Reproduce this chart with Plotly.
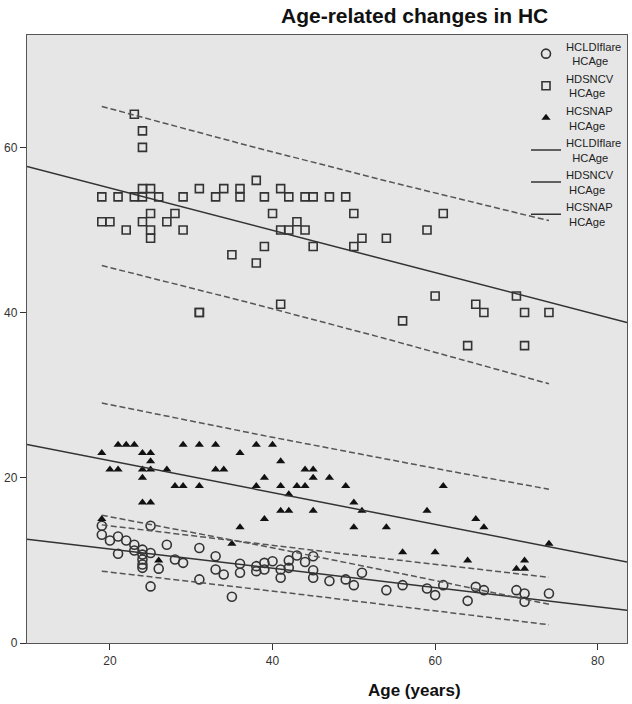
import numpy as np
import plotly.graph_objects as go

# ---------------- data ----------------
ldi_age = [19, 19, 20, 21, 21, 22, 23, 23, 24, 24, 24, 24, 24, 25, 25, 25, 26, 27, 28, 29,
           31, 31, 33, 33, 34, 35, 36, 36, 38, 38, 39, 39, 40, 41, 41, 42, 42, 43, 44, 45,
           45, 45, 47, 49, 50, 51, 54, 56, 59, 60, 61, 64, 65, 66, 70, 71, 71, 74]
ldi_val = [14.2, 13.1, 12.4, 12.9, 10.8, 12.4, 11.9, 11.2, 11.3, 10.7, 10.1, 9.5, 9.1, 14.2, 10.9, 6.85, 9.0, 11.9, 10.1, 9.7,
           11.5, 7.7, 10.5, 8.9, 8.3, 5.6, 9.6, 8.5, 9.3, 8.7, 9.7, 8.9, 9.9, 8.9, 7.9, 10.0, 9.1, 10.6, 9.8, 10.5,
           8.8, 7.9, 7.5, 7.7, 7.0, 8.5, 6.4, 7.0, 6.6, 5.8, 7.0, 5.1, 6.8, 6.4, 6.4, 6.0, 5.0, 6.0]

ncv_age = [19, 19, 20, 21, 22, 23, 23, 24, 24, 24, 24, 24, 25, 25, 25, 25, 26, 27, 28, 29,
           29, 31, 31, 31, 33, 34, 35, 36, 36, 38, 38, 39, 39, 40, 41, 41, 41, 42, 42, 43,
           44, 44, 45, 45, 47, 49, 50, 50, 51, 54, 56, 59, 60, 61, 64, 65, 66, 70, 71, 71, 74]
ncv_val = [54, 51, 51, 54, 50, 64, 54, 62, 60, 55, 54, 51, 55, 52, 50, 49, 54, 51, 52, 54,
           50, 55, 40, 40, 54, 55, 47, 55, 54, 56, 46, 54, 48, 52, 55, 50, 41, 54, 50, 51,
           54, 50, 54, 48, 54, 54, 52, 48, 49, 49, 39, 50, 42, 52, 36, 41, 40, 42, 40, 36, 40]

snap_age = [19, 19, 20, 21, 21, 22, 23, 24, 24, 24, 24, 25, 25, 25, 25, 26, 27, 28, 29, 29,
            31, 31, 33, 33, 34, 35, 36, 36, 38, 38, 39, 39, 40, 41, 41, 41, 42, 42, 43, 44,
            44, 45, 45, 45, 47, 49, 50, 50, 51, 54, 56, 59, 60, 61, 64, 65, 66, 70, 71, 71, 74]
snap_val = [23, 15, 21, 24, 21, 24, 24, 23, 21, 20, 17, 23, 22, 21, 17, 10, 21, 19, 24, 19,
            24, 19, 24, 21, 21, 12, 23, 14, 24, 19, 20, 15, 24, 22, 19, 16, 18, 16, 19, 21,
            19, 21, 20, 16, 20, 19, 17, 14, 16, 14, 11, 16, 11, 19, 10, 15, 14, 9, 10, 9, 12]

legend_names = ["HCLDIflare<br>\u00a0\u00a0HCAge", "HDSNCV<br>\u00a0HCAge", "HCSNAP<br>\u00a0HCAge"]
x_ticks = [20, 40, 60, 80]
y_ticks = [0, 20, 40, 60]
X_RANGE = [9.8, 83.6]
Y_RANGE = [0, 73.6]
T_CRIT = 2.0  # approx. 97.5% t quantile for ~58 df

INK = "#333333"
FONT = "Arial, Liberation Sans, sans-serif"


def fit(xs, ys):
    x = np.asarray(xs, float)
    y = np.asarray(ys, float)
    b1, b0 = np.polyfit(x, y, 1)
    n = len(x)
    resid = y - (b0 + b1 * x)
    s = np.sqrt((resid ** 2).sum() / (n - 2))
    xbar = x.mean()
    sxx = ((x - xbar) ** 2).sum()
    xg = np.linspace(x.min(), x.max(), 60)
    yg = b0 + b1 * xg
    half = T_CRIT * s * np.sqrt(1 + 1 / n + (xg - xbar) ** 2 / sxx)
    xl = np.array(X_RANGE)
    return (xl, b0 + b1 * xl), (xg, yg - half, yg + half)


fig = go.Figure()

series = [
    (ldi_age, ldi_val, dict(symbol="circle-open", size=9, color=INK, line=dict(width=1.6, color=INK))),
    (ncv_age, ncv_val, dict(symbol="square-open", size=8, color=INK, line=dict(width=1.6, color=INK))),
    (snap_age, snap_val, dict(symbol="triangle-up", size=8, color="#111111", line=dict(width=0))),
]

for (xs, ys, mk), name in zip(series, legend_names):
    fig.add_trace(go.Scatter(x=xs, y=ys, mode="markers", marker=mk, name=name, showlegend=True))

for (xs, ys, mk), name in zip(series, legend_names):
    (xl, yl), (xg, lo, hi) = fit(xs, ys)
    fig.add_trace(go.Scatter(x=xl, y=yl, mode="lines", name=name,
                             line=dict(color=INK, width=1.5), showlegend=True))
    for band in (lo, hi):
        fig.add_trace(go.Scatter(x=xg, y=band, mode="lines", showlegend=False, hoverinfo="skip",
                                 line=dict(color="#555555", width=1.5, dash="6px,3px")))

axis_common = dict(showgrid=False, zeroline=False, showline=True, mirror=True, automargin=False,
                   linecolor="#555555", linewidth=1.3, ticks="outside", ticklen=6,
                   tickwidth=1.3, tickcolor=INK, tickfont=dict(family=FONT, size=12, color=INK))

fig.update_layout(
    width=632, height=704,
    margin=dict(l=27, r=5, t=35, b=61),
    paper_bgcolor="white", plot_bgcolor="#e6e6e6",
    font=dict(family=FONT, color=INK),
    xaxis=dict(range=X_RANGE, tickvals=x_ticks, **axis_common),
    yaxis=dict(range=Y_RANGE, tickvals=y_ticks, **axis_common),
    showlegend=True,
    legend=dict(x=1.0, xanchor="right", y=1.004, yanchor="top", bgcolor="rgba(0,0,0,0)",
                font=dict(family=FONT, size=11.2, color="#222222"), tracegroupgap=0,
                itemwidth=30),
    annotations=[
        dict(text="<b>Age-related changes in HC</b>", xref="paper", yref="paper",
             x=(415 - 27) / 600, y=1, yshift=20, xanchor="center", yanchor="middle",
             showarrow=False, font=dict(family=FONT, size=21, color="#111111")),
        dict(text="<b>Age (years)</b>", xref="paper", yref="paper",
             x=(415 - 27) / 600, y=0, yshift=-47, xanchor="center", yanchor="middle",
             showarrow=False, font=dict(family=FONT, size=17, color="#111111")),
    ],
)

fig.write_html("out.html",
               config={"displayModeBar": False},
               post_script="document.body.style.margin='0';document.body.style.padding='0';")
